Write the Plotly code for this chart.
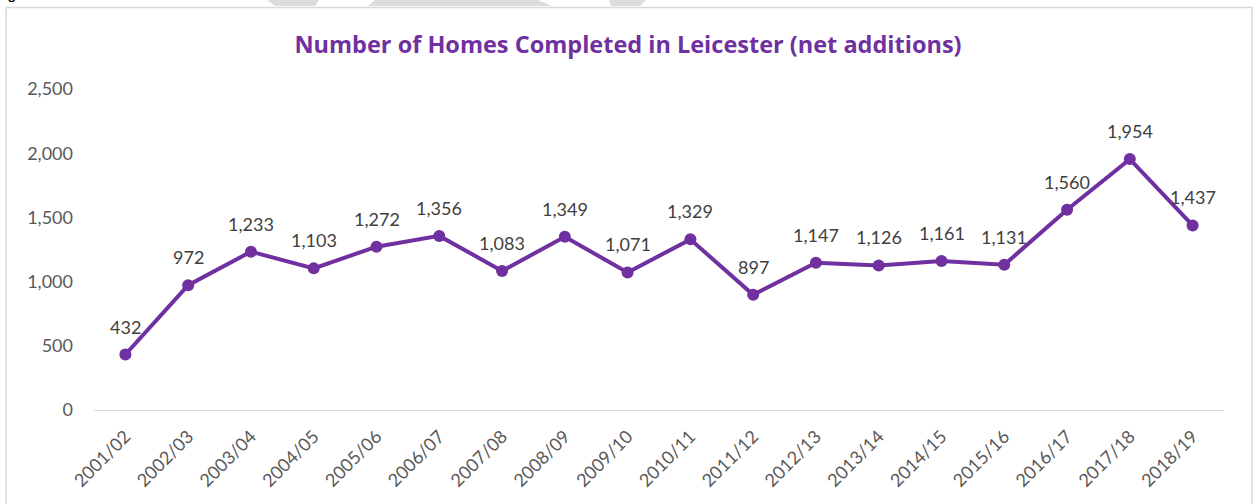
import plotly.graph_objects as go

years = ["2001/02", "2002/03", "2003/04", "2004/05", "2005/06", "2006/07", "2007/08",
         "2008/09", "2009/10", "2010/11", "2011/12", "2012/13", "2013/14", "2014/15",
         "2015/16", "2016/17", "2017/18", "2018/19"]
homes = [432, 972, 1233, 1103, 1272, 1356, 1083, 1349, 1071, 1329, 897, 1147, 1126,
         1161, 1131, 1560, 1954, 1437]
y_ticks = [0, 500, 1000, 1500, 2000, 2500]

W, H = 1256, 504
ML, MR, MT, MB = 94, 32, 89, 94
PW, PH = W - ML - MR, H - MT - MB


def px(x):
    return (x - ML) / PW


def py(y):
    return (H - MB - y) / PH


purple = "#7030A0"
label_font = dict(family="Lato", size=18, color="#404040")

fig = go.Figure()
fig.add_trace(go.Scatter(
    x=years, y=homes, mode="lines+markers",
    line=dict(color=purple, width=4),
    marker=dict(color=purple, size=12),
    cliponaxis=False,
    hoverinfo="x+y",
))

shapes = []
shapes.append(dict(type="rect", xref="paper", yref="paper",
                   x0=px(6), x1=px(1252), y0=py(520), y1=py(7.5),
                   line=dict(color="#d9d9d9", width=1.5), fillcolor="rgba(0,0,0,0)",
                   layer="below"))


def poly(pts):
    d = "M " + " L ".join(f"{px(a)},{py(b)}" for a, b in pts) + " Z"
    return dict(type="path", xref="paper", yref="paper", path=d,
                fillcolor="#dcdcdc", line=dict(width=0), layer="below")


shapes.append(poly([(265, -2), (320, -2), (315, 6), (275, 6)]))
shapes.append(poly([(377, -2), (533, -2), (552, 6), (368, 6)]))
shapes.append(poly([(608, -2), (648, -2), (640, 6), (611, 6)]))

annotations = [dict(text="Figure 3", xref="paper", yref="paper",
                    x=px(-8), y=py(4), xanchor="left", yanchor="bottom",
                    showarrow=False, font=dict(family="Liberation Sans", size=16, color="black"))]
for yr, v in zip(years, homes):
    annotations.append(dict(x=yr, y=v, text=f"{v:,}", showarrow=False,
                            xanchor="center", yanchor="middle", yshift=28,
                            font=label_font))

fig.update_layout(
    width=W, height=H,
    margin=dict(l=ML, r=MR, t=MT, b=MB),
    paper_bgcolor="white", plot_bgcolor="white",
    showlegend=False,
    shapes=shapes,
    annotations=annotations,
    title=dict(text="<b>Number of Homes Completed in Leicester (net additions)</b>",
               x=0.5, xref="container", xanchor="center", y=1 - 45 / H, yanchor="middle",
               font=dict(family="Open Sans", size=23.5, color=purple)),
    xaxis=dict(type="category", range=[-0.5, len(years) - 0.5],
               showgrid=False, showline=True, linecolor="#d9d9d9", linewidth=1,
               ticks="", tickangle=-45, ticklabelstandoff=8,
               tickfont=dict(family="Lato", size=18, color="#595959")),
    yaxis=dict(range=[0, 2500], tickvals=y_ticks, tickformat=",",
               showgrid=False, zeroline=False, showline=False, ticks="",
               ticklabelstandoff=20,
               tickfont=dict(family="Lato", size=18, color="#595959")),
)

fig.write_html("out.html", config={"displayModeBar": False},
               post_script="document.body.style.margin='0';")
